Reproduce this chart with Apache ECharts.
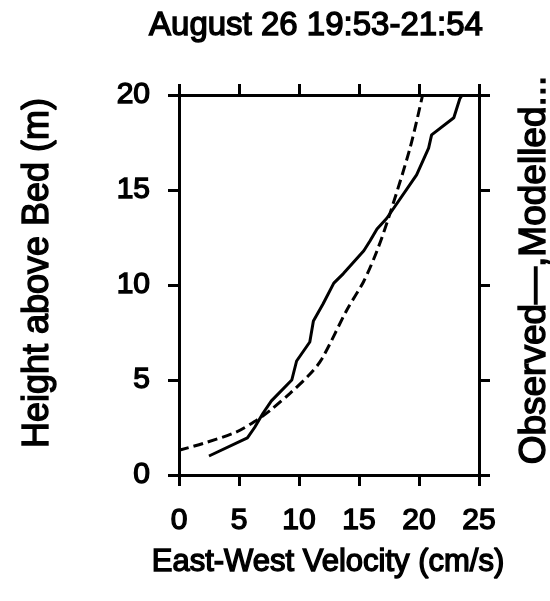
<!DOCTYPE html>
<html>
<head>
<meta charset="utf-8">
<script src="https://cdn.jsdelivr.net/npm/echarts@6/dist/echarts.min.js"></script>
<style>
html,body{margin:0;padding:0;background:#fff;}
#main{width:550px;height:601px;}
</style>
</head>
<body>
<div id="main"></div>
<script>
// Data
var titleText = 'August 26 19:53-21:54';
var xAxisLabel = 'East-West Velocity (cm/s)';
var yAxisLabel = 'Height above Bed (m)';
var rightLabel = 'Observed\u2014,Modelled...';
var xTicks = [0, 5, 10, 15, 20, 25];
var yTicks = [0, 5, 10, 15, 20];

// Observed profile (solid)
var observedVelocity = [2.5, 5.7, 6.3, 7.0, 7.7, 9.4, 9.8, 10.9, 11.2, 12.0, 12.9, 13.7, 15.4, 15.9, 16.5, 17.3, 19.8, 20.8, 21.05, 22.9, 23.4, 23.6];
var observedHeight   = [1.0, 1.95, 2.5, 3.25, 3.9, 5.0, 6.0, 7.0, 8.1, 9.0, 10.1, 10.6, 11.8, 12.3, 12.95, 13.5, 15.8, 17.2, 17.9, 18.8, 19.8, 20.0];

// Modelled profile (dashed)
var modelledVelocity = [0.0, 2.0, 4.8, 6.5, 7.6, 9.25, 10.9, 11.9, 14.0, 15.4, 16.5, 17.5, 19.25, 20.3];
var modelledHeight   = [1.3, 1.66, 2.27, 2.9, 3.4, 4.3, 5.3, 6.1, 8.7, 10.2, 11.8, 13.6, 17.2, 20.0];

function pairs(xs, ys) { return xs.map(function (x, i) { return [x, ys[i]]; }); }

var FONT = '"Liberation Sans", Arial, Helvetica, sans-serif';
var chart = echarts.init(document.getElementById('main'), null, {renderer: 'canvas'});

function axisBase() {
  return {
    type: 'value',
    interval: 5,
    axisLine: {show: true, onZero: false, lineStyle: {color: '#000', width: 3}},
    axisTick: {show: true, inside: false, length: 11, lineStyle: {color: '#000', width: 3}},
    splitLine: {show: false}
  };
}
var tickLabelStyle = {show: true, color: '#000', fontSize: 30, fontFamily: FONT,
  textBorderColor: '#000', textBorderWidth: 1.4};

var option = {
  backgroundColor: '#fff',
  animation: false,
  grid: {left: 179, top: 95, width: 300, height: 380, containLabel: false},
  xAxis: [
    Object.assign(axisBase(), {
      position: 'bottom', min: xTicks[0], max: xTicks[xTicks.length - 1],
      axisLabel: Object.assign({}, tickLabelStyle, {margin: 31,
        formatter: function (v) { return xTicks.indexOf(v) >= 0 ? String(v) : ''; }})
    }),
    Object.assign(axisBase(), {
      position: 'top', min: xTicks[0], max: xTicks[xTicks.length - 1],
      axisLabel: {show: false}
    })
  ],
  yAxis: [
    Object.assign(axisBase(), {
      position: 'left', min: yTicks[0], max: yTicks[yTicks.length - 1],
      axisLabel: Object.assign({}, tickLabelStyle, {margin: 29,
        formatter: function (v) { return yTicks.indexOf(v) >= 0 ? String(v) : ''; }})
    }),
    Object.assign(axisBase(), {
      position: 'right', min: yTicks[0], max: yTicks[yTicks.length - 1],
      axisLabel: {show: false}
    })
  ],
  series: [
    {
      type: 'line', name: 'Observed', xAxisIndex: 0, yAxisIndex: 0,
      data: pairs(observedVelocity, observedHeight),
      showSymbol: false, symbol: 'none',
      lineStyle: {color: '#000', width: 3, type: 'solid'}
    },
    {
      type: 'line', name: 'Modelled', xAxisIndex: 0, yAxisIndex: 0,
      data: pairs(modelledVelocity, modelledHeight),
      showSymbol: false, symbol: 'none', smooth: 0.3,
      lineStyle: {color: '#000', width: 3, type: [10, 5]}
    }
  ],
  graphic: [
    {type: 'text', x: 316, y: 26, style: {text: titleText, fill: '#000', stroke: '#000', lineWidth: 1.4, font: '33px ' + FONT, align: 'center', verticalAlign: 'middle'}},
    {type: 'text', x: 328, y: 562, style: {text: xAxisLabel, fill: '#000', stroke: '#000', lineWidth: 1.4, font: '31px ' + FONT, align: 'center', verticalAlign: 'middle'}},
    {type: 'text', x: 38, y: 273, rotation: Math.PI / 2, style: {text: yAxisLabel, fill: '#000', stroke: '#000', lineWidth: 1.4, font: '36px ' + FONT, align: 'center', verticalAlign: 'middle'}},
    {type: 'text', x: 535, y: 270, rotation: Math.PI / 2, style: {text: rightLabel, fill: '#000', stroke: '#000', lineWidth: 1.4, font: '37px ' + FONT, align: 'center', verticalAlign: 'middle'}}
  ]
};
chart.setOption(option);
</script>
</body>
</html>
